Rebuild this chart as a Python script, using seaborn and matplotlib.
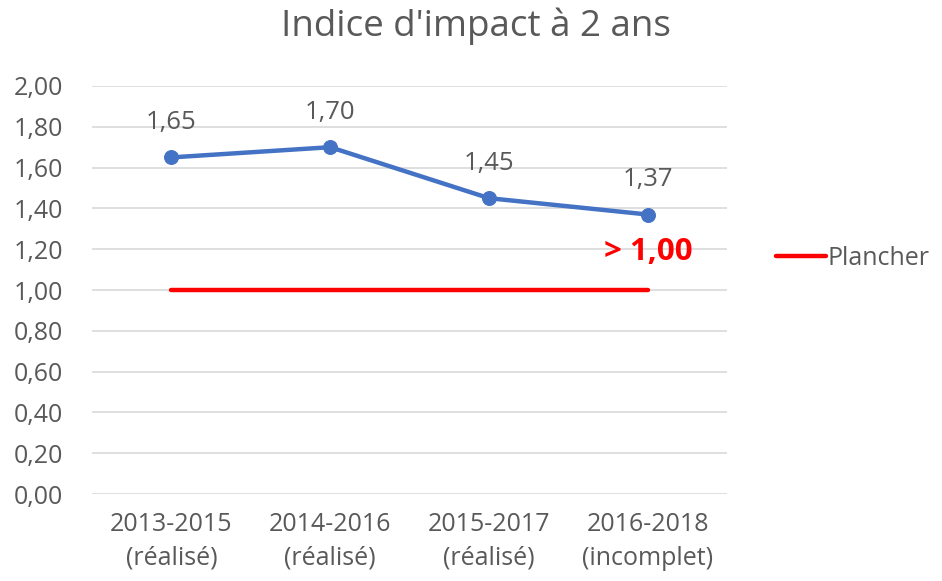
import matplotlib
matplotlib.use("Agg")
import matplotlib.pyplot as plt
import seaborn as sns
import pandas as pd

categories = ["2013-2015\n(réalisé)", "2014-2016\n(réalisé)", "2015-2017\n(réalisé)", "2016-2018\n(incomplet)"]
impact = [1.65, 1.70, 1.45, 1.37]
plancher = [1.00, 1.00, 1.00, 1.00]
yticks = [0.0, 0.2, 0.4, 0.6, 0.8, 1.0, 1.2, 1.4, 1.6, 1.8, 2.0]

sns.set_style("white")
plt.rcParams["font.family"] = ["Open Sans", "DejaVu Sans"]
grey = "#595959"

df = pd.DataFrame({"cat": categories, "impact": impact, "plancher": plancher, "x": range(len(categories))})

fig = plt.figure(figsize=(9.42, 5.81), dpi=100)
ax = fig.add_axes([0.0977, 0.1497, 0.6743, 0.7023])

sns.lineplot(data=df, x="x", y="plancher", ax=ax, color="#FF0000", linewidth=3.2, label="Plancher", legend=False)
sns.lineplot(data=df, x="x", y="impact", ax=ax, color="#4472C4", linewidth=3.2, marker="o",
             markersize=10, markeredgecolor="#4472C4", legend=False)

for xi, v in zip(df["x"], impact):
    ax.annotate(f"{v:.2f}".replace(".", ","), (xi, v), xytext=(0, 25), textcoords="offset points",
                ha="center", va="center", fontsize=18.5, color=grey)

ax.text(3, 1.185, "> 1,00", ha="center", va="center", fontsize=22.5, fontweight="bold", color="#FF0000")

ax.set_xlim(-0.5, 3.5)
ax.set_ylim(0, 2.0)
ax.set_yticks(yticks)
ax.set_yticklabels([f"{t:.2f}".replace(".", ",") for t in yticks])
ax.set_xticks(range(len(categories)))
ax.set_xticklabels(categories, linespacing=1.45)
ax.tick_params(axis="both", length=0, labelsize=18, colors=grey)
ax.tick_params(axis="x", pad=13)
ax.tick_params(axis="y", pad=21)
ax.set_xlabel("")
ax.set_ylabel("")
ax.grid(axis="y", color="#D9D9D9", linewidth=1.2)
ax.set_axisbelow(True)
for s in ax.spines.values():
    s.set_visible(False)

fig.text(0.505, 0.954, "Indice d'impact à 2 ans", ha="center", va="center", fontsize=26.5, color=grey)

handles, labels = ax.get_legend_handles_labels()
leg = fig.legend(handles, labels, loc="center left", bbox_to_anchor=(0.824, 0.555), frameon=False,
                 fontsize=18, handlelength=2.0, handletextpad=0.05, borderpad=0, borderaxespad=0,
                 labelcolor=grey)

fig.savefig("out.png", dpi=100)
